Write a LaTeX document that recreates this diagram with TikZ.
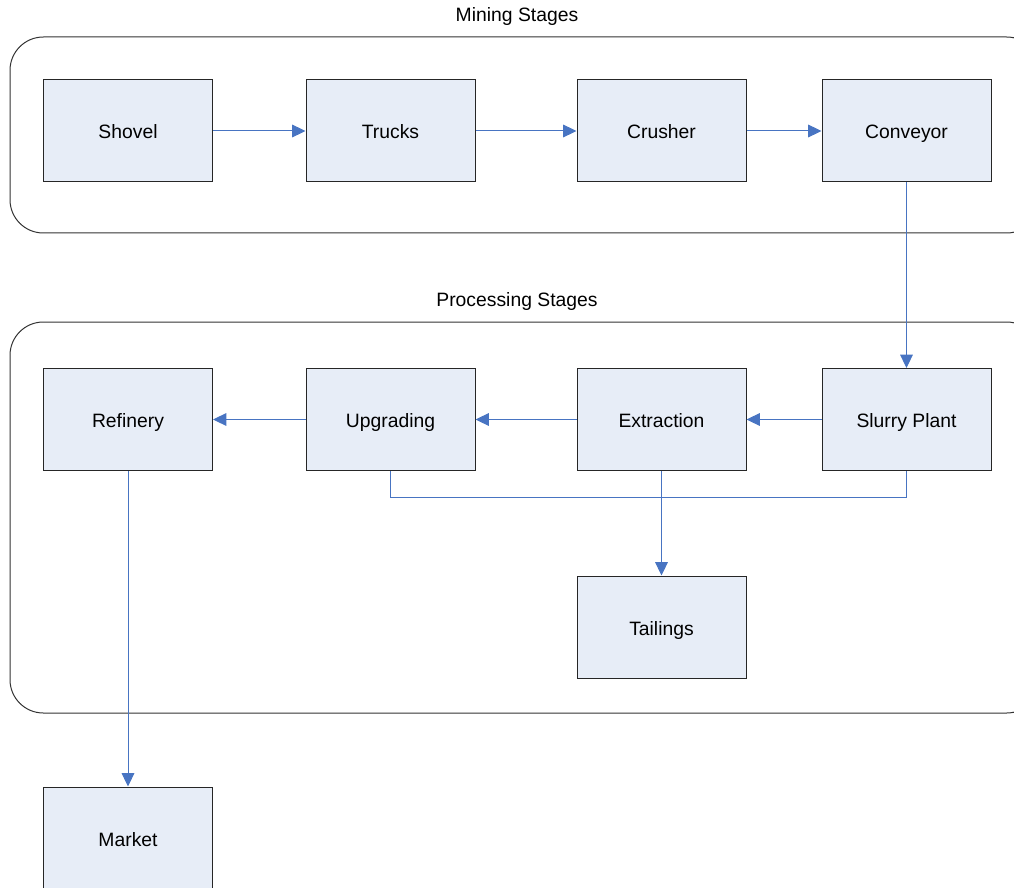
\documentclass[tikz,border=0pt]{standalone}
\usepackage{fontspec}
\setmainfont{Liberation Sans}
\usetikzlibrary{arrows.meta}
\definecolor{boxfill}{RGB}{231,237,247}
\definecolor{flowblue}{RGB}{72,116,194}
\tikzset{
	stage/.style={draw=black!85, fill=boxfill, line width=0.75pt, minimum width=126.75pt, minimum height=76.5pt, inner sep=0pt, text height=13pt, text depth=1pt, font=\fontsize{14.5}{17}\selectfont},
	flow/.style={draw=flowblue, line width=0.75pt, -{Triangle[length=10pt,width=9.5pt]}},
	link/.style={draw=flowblue, line width=0.75pt},
	group/.style={draw=black!80, line width=0.75pt, rounded corners=25pt},
	grouptitle/.style={text height=10.5pt, text depth=3pt, font=\fontsize{14.5}{17}\selectfont}
}
\begin{document}
\begin{tikzpicture}[x=0.75pt, y=-0.75pt]
		%%%%% START %%%%%
		
		\useasboundingbox (0, 0) rectangle (1014, 888);
		\clip (0, 0) rectangle (1014, 888);
		
		\draw[group] (10, 37) rectangle (1040, 233);
		\node[grouptitle] (miningtitle) at (517, 17) {Mining Stages};
		
		\draw[group] (10, 322) rectangle (1040, 713);
		\node[grouptitle] (processtitle) at (517, 301) {Processing Stages};
		
		\node[stage] (shovel) at (128, 131) {Shovel};
		\node[stage] (trucks) at (390.5, 131) {Trucks};
		\node[stage] (crusher) at (661.5, 131) {Crusher};
		\node[stage] (conveyor) at (906.5, 131) {Conveyor};
		
		\node[stage] (refinery) at (128, 419.5) {Refinery};
		\node[stage] (upgrading) at (390.5, 419.5) {Upgrading};
		\node[stage] (extraction) at (661.5, 419.5) {Extraction};
		\node[stage] (slurry) at (906.5, 419.5) {Slurry Plant};
		
		\node[stage] (tailings) at (661.5, 627) {Tailings};
		\node[stage] (market) at (128, 838) {Market};
		
		\coordinate (waste) at (661.5, 497);
		
		\draw[flow] (shovel) -- (trucks);
		\draw[flow] (trucks) -- (crusher);
		\draw[flow] (crusher) -- (conveyor);
		\draw[flow] (conveyor) -- (slurry);
		
		\draw[flow] (slurry) -- (extraction);
		\draw[flow] (extraction) -- (upgrading);
		\draw[flow] (upgrading) -- (refinery);
		\draw[flow] (refinery) -- (market);
		
		\draw[link] (upgrading.south) |- (waste);
		\draw[link] (slurry.south) |- (waste);
		\draw[flow] (extraction) -- (tailings);
		
		%%%%% END %%%%%
\end{tikzpicture}
\end{document}
